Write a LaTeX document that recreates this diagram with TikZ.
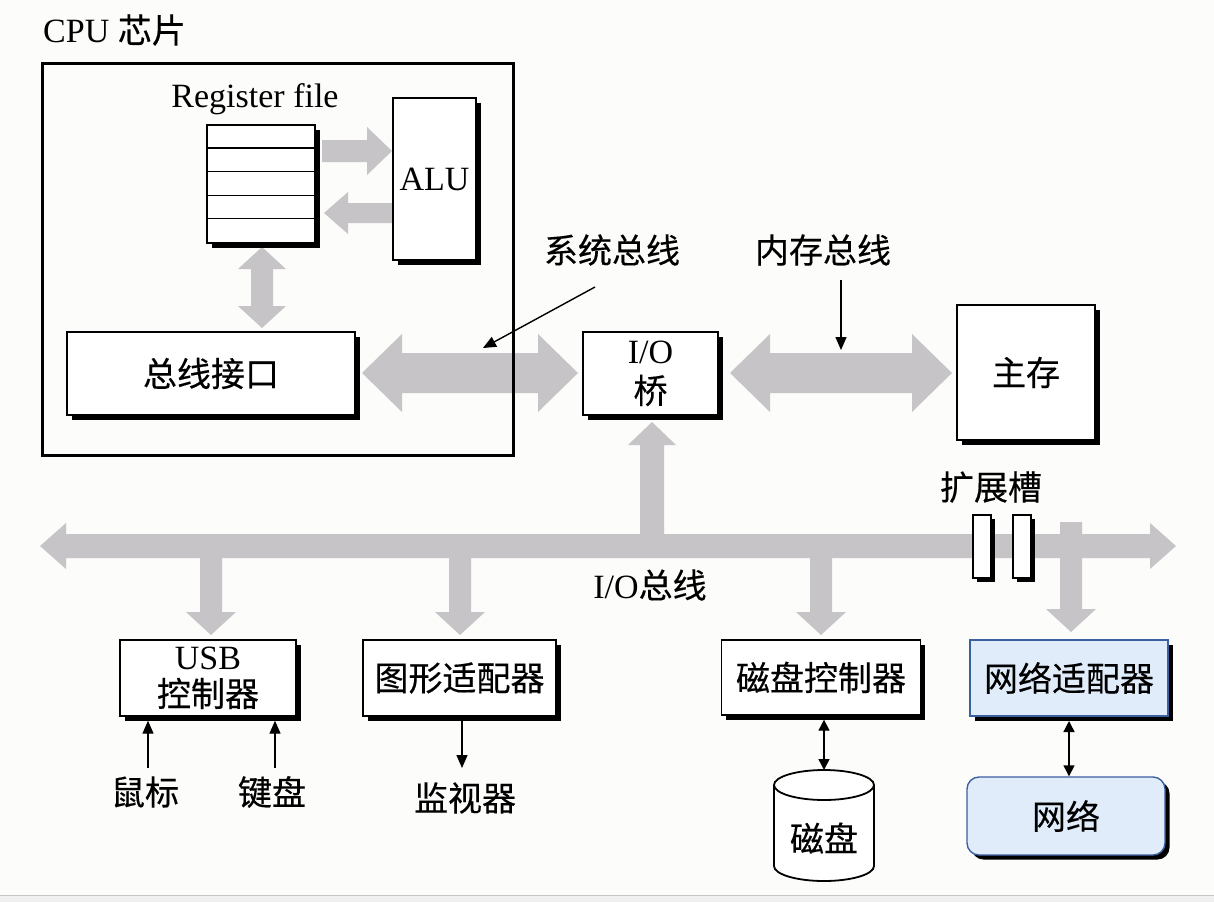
\documentclass[tikz,border=0pt]{standalone}
\usepackage{fontspec}
\setmainfont{Liberation Serif}
\newfontfamily\cjk[FakeBold=0.35]{Noto Sans CJK SC}
\usetikzlibrary{shadows,arrows.meta,calc}
\definecolor{bg}{RGB}{252,252,250}
\definecolor{busgray}{RGB}{198,196,198}
\definecolor{netfill}{RGB}{225,236,250}
\definecolor{netdraw}{RGB}{60,95,160}
\newcommand\fsz{\fontsize{34}{40}\selectfont}
% double-headed horizontal fat arrow: xl xr y bodyhalf headhalf headlen
\newcommand\fatH[6]{\fill[bus] (#1,#3) -- ({#1+#6},{#3-#5}) -- ({#1+#6},{#3-#4}) -- ({#2-#6},{#3-#4}) -- ({#2-#6},{#3-#5}) -- (#2,#3) -- ({#2-#6},{#3+#5}) -- ({#2-#6},{#3+#4}) -- ({#1+#6},{#3+#4}) -- ({#1+#6},{#3+#5}) -- cycle;}
% right-pointing: xtail xtip y b h L
\newcommand\fatR[6]{\fill[bus] (#1,{#3-#4}) -- ({#2-#6},{#3-#4}) -- ({#2-#6},{#3-#5}) -- (#2,#3) -- ({#2-#6},{#3+#5}) -- ({#2-#6},{#3+#4}) -- (#1,{#3+#4}) -- cycle;}
% left-pointing: xtip xtail y b h L
\newcommand\fatL[6]{\fill[bus] (#1,#3) -- ({#1+#6},{#3-#5}) -- ({#1+#6},{#3-#4}) -- (#2,{#3-#4}) -- (#2,{#3+#4}) -- ({#1+#6},{#3+#4}) -- ({#1+#6},{#3+#5}) -- cycle;}
% vertical double: x ytop ybottom b h L
\newcommand\fatV[6]{\fill[bus] (#1,#2) -- ({#1+#5},{#2+#6}) -- ({#1+#4},{#2+#6}) -- ({#1+#4},{#3-#6}) -- ({#1+#5},{#3-#6}) -- (#1,#3) -- ({#1-#5},{#3-#6}) -- ({#1-#4},{#3-#6}) -- ({#1-#4},{#2+#6}) -- ({#1-#5},{#2+#6}) -- cycle;}
% vertical single: x ytail ytip b h L
\newcommand\fatD[6]{\fill[bus] ({#1-#4},#2) -- ({#1-#4},{#3-#6}) -- ({#1-#5},{#3-#6}) -- (#1,#3) -- ({#1+#5},{#3-#6}) -- ({#1+#4},{#3-#6}) -- ({#1+#4},#2) -- cycle;}
\newcommand\fatU[6]{\fill[bus] ({#1-#4},#2) -- ({#1-#4},{#3+#6}) -- ({#1-#5},{#3+#6}) -- (#1,#3) -- ({#1+#5},{#3+#6}) -- ({#1+#4},{#3+#6}) -- ({#1+#4},#2) -- cycle;}

\begin{document}
\begin{tikzpicture}[x=1pt,y=-1pt,
  box/.style={draw=black, line width=1.4pt, fill=white, inner sep=0pt, font=\fsz,
    drop shadow={fill=black, opacity=1, shadow xshift=4.5pt, shadow yshift=-4.5pt}},
  slotbox/.style={draw=black, line width=1.2pt, fill=white, inner sep=0pt,
    drop shadow={fill=black, opacity=1, shadow xshift=3.5pt, shadow yshift=-3.5pt}},
  lbl/.style={inner sep=0pt, font=\fsz},
  bus/.style={fill=busgray},
  thinarrow/.style={line width=1.4pt, -{Triangle[length=13pt,width=11pt]}},
  dblarrow/.style={line width=1.4pt, {Triangle[length=11pt,width=11pt]}-{Triangle[length=11pt,width=11pt]}}]

% background and margins
\fill[bg] (0,0) rectangle (1214,902);
\useasboundingbox (0,0) rectangle (1214,902);
\fill[black!6] (0,895) rectangle (1214,902);
\draw[black!22, line width=1pt] (0,895) -- (1214,895);

% ---------- fat bus arrows ----------
\fatR{322}{392}{151}{11}{24}{25}
\fatL{324}{392}{213}{10}{21}{24}
\fatV{262}{247}{328}{11}{24}{22}
\fatH{362}{578}{373}{20}{39}{40}
\fatH{730}{952}{373}{20}{39}{40}
\fatH{40}{1176}{546}{12}{23}{26}
\fatU{652}{550}{422}{12}{24}{23}
\fatD{211}{550}{635}{11}{25}{23}
\fatD{460}{550}{635}{11}{25}{23}
\fatD{821}{550}{635}{11}{25}{23}
\fatD{1071}{522}{632}{11}{25}{23}

% ---------- CPU chip ----------
\node[lbl, anchor=west] (cpul) at (43,30) {CPU {\cjk 芯片}};
\draw[line width=3pt] (42,63) rectangle (513,455);
\node[lbl] (regl) at (255,99) {Register file};
\node[box, minimum width=108pt, minimum height=118pt] (reg) at (261,184) {};
\foreach \i in {1,...,4}
  \draw[line width=1.2pt] ([yshift=-\i*23.6pt]reg.north west) -- ([yshift=-\i*23.6pt]reg.north east);
\node[box, minimum width=83pt, minimum height=162pt] (alu) at (434.5,179) {ALU};
\node[box, minimum width=288pt, minimum height=83pt] (busif) at (211,373.5) {\cjk 总线接口};

% ---------- bridge and memory ----------
\node[box, minimum width=135pt, minimum height=83pt, align=center, font=\fontsize{34}{40}\selectfont] (iob) at (650.5,373.5) {I/O\\{\cjk 桥}};
\node[box, minimum width=138pt, minimum height=135pt] (mem) at (1026,372.5) {\cjk 主存};
\node[lbl] (sysl) at (612,250) {\cjk 系统总线};
\node[lbl] (meml) at (823,250) {\cjk 内存总线};
\coordinate (sysp) at (595,287);
\coordinate (syst) at (483,348);
\draw[thinarrow] (sysp) -- (syst);
\coordinate (memp) at (841,280);
\coordinate (memt) at (841,350);
\draw[thinarrow] (memp) -- (memt);

% ---------- I/O bus labels and slots ----------
\node[lbl] (iobusl) at (650,585) {I/O{\cjk 总线}};
\node[lbl] (slotl) at (991,487) {\cjk 扩展槽};
\node[slotbox, minimum width=18pt, minimum height=63pt] (s1) at (982,546.5) {};
\node[slotbox, minimum width=18pt, minimum height=63pt] (s2) at (1022,546.5) {};

% ---------- devices ----------
\node[box, minimum width=176pt, minimum height=76pt, align=center, font=\fontsize{34}{37}\selectfont] (usb) at (208,678) {USB\\{\cjk 控制器}};
\node[box, minimum width=193pt, minimum height=76pt] (gfx) at (459.5,678) {\cjk 图形适配器};
\node[box, minimum width=199pt, minimum height=75pt] (dctl) at (821,677.5) {\cjk 磁盘控制器};
\node[box, draw=netdraw, fill=netfill, minimum width=198pt, minimum height=76pt] (nad) at (1069,678) {\cjk 网络适配器};
\node[box, draw=netdraw, fill=netfill, rounded corners=12pt, minimum width=198pt, minimum height=78pt] (net) at (1066,816) {\cjk 网络};

\node[lbl] (mouse) at (145,792) {\cjk 鼠标};
\node[lbl] (kbd) at (272,792) {\cjk 键盘};
\node[lbl] (mon) at (465,798) {\cjk 监视器};

\coordinate (mst) at (148,768);
\draw[thinarrow] (mst) -- ($(mst |- usb.south)+(0,4)$);
\coordinate (kbt) at (275,768);
\draw[thinarrow] (kbt) -- ($(kbt |- usb.south)+(0,4)$);
\coordinate (gfb) at (462,721);
\coordinate (mont) at (462,768);
\draw[thinarrow] (gfb) -- (mont);

% disk cylinder
\draw[line width=1.8pt, fill=white] (774,785) -- (774,866) arc[start angle=180, end angle=360, x radius=50pt, y radius=15pt] -- (874,785) arc[start angle=0, end angle=180, x radius=50pt, y radius=15pt] -- cycle;
\draw[line width=1.8pt] (774,785) arc[start angle=180, end angle=360, x radius=50pt, y radius=15pt];
\node[lbl] (disk) at (824,838) {\cjk 磁盘};
\coordinate (disktop) at (824,770);
\draw[dblarrow] ($(disktop |- dctl.south)+(0,4)$) -- (disktop);

\coordinate (nadb) at (1069,721);
\draw[dblarrow] (nadb) -- (nadb |- net.north);
\end{tikzpicture}
\end{document}
